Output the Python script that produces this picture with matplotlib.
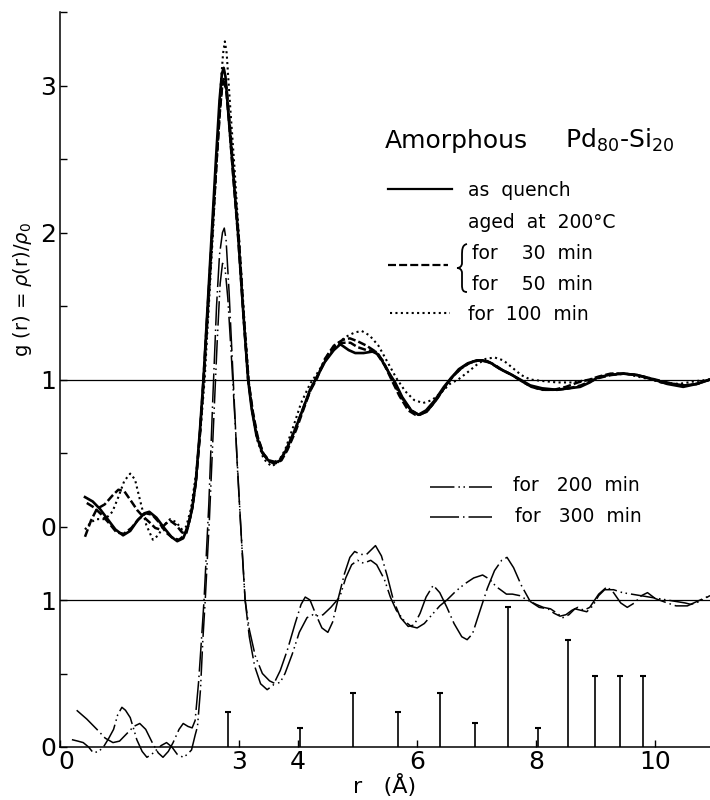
import matplotlib
matplotlib.use("Agg")
import matplotlib.pyplot as plt
import matplotlib.transforms as mtransforms
from matplotlib.lines import Line2D
from matplotlib.path import Path
from matplotlib.patches import PathPatch

#==========================================================
# data, r in Angstrom, g(r)
#==========================================================
# upper group : as quench, aged 30 / 50 / 100 min
r_quench = [0.42,0.55,0.67,0.80,0.93,1.06,1.18,1.30,1.42,1.50,1.62,1.75,1.87,1.97,2.07,
            2.15,2.22,2.28,2.35,2.41,2.48,2.55,2.62,2.68,2.72,2.75,2.78,2.83,2.91,2.99,
            3.08,3.16,3.22,3.30,3.40,3.50,3.60,3.70,3.80,3.95,4.10,4.20,4.32,4.45,4.60,
            4.71,4.85,4.96,5.10,5.25,5.35,5.45,5.55,5.63,5.75,5.90,6.02,6.15,6.30,6.45,
            6.55,6.70,6.85,7.00,7.10,7.25,7.40,7.55,7.73,7.90,8.10,8.35,8.55,8.74,8.90,
            9.02,9.20,9.46,9.70,9.87,10.05,10.20,10.47,10.70,10.92]
g_quench = [0.20,0.17,0.12,0.05,-0.02,-0.06,-0.03,0.04,0.09,0.10,0.06,-0.01,-0.07,-0.10,-0.08,
            0.00,0.12,0.30,0.65,1.00,1.50,2.00,2.50,2.90,3.08,3.12,3.06,2.80,2.40,2.00,
            1.45,1.00,0.80,0.62,0.50,0.45,0.43,0.45,0.52,0.66,0.82,0.93,1.02,1.12,1.20,
            1.24,1.20,1.18,1.18,1.19,1.17,1.10,1.03,0.98,0.88,0.79,0.76,0.79,0.86,0.95,
            1.00,1.07,1.11,1.13,1.13,1.11,1.07,1.04,1.00,0.96,0.94,0.93,0.94,0.95,0.98,
            1.01,1.03,1.04,1.03,1.01,0.99,0.97,0.95,0.97,1.00]

r_30 = [0.42,0.52,0.62,0.75,0.88,0.98,1.08,1.20,1.30,1.39,1.50,1.60,1.68,1.78,1.85,
        1.95,2.05,2.12,2.20,2.28,2.35,2.41,2.48,2.55,2.62,2.68,2.72,2.75,2.79,2.84,
        2.91,2.99,3.08,3.16,3.23,3.31,3.41,3.51,3.61,3.71,3.81,3.96,4.10,4.20,4.32,
        4.45,4.60,4.75,4.87,5.00,5.15,5.30,5.45,5.58,5.70,5.85,5.97,6.05,6.18,6.32,
        6.47,6.60,6.75,6.90,7.05,7.20,7.40,7.60,7.75,7.92,8.10,8.30,8.50,8.70,8.90,
        9.05,9.25,9.48,9.70,9.90,10.10,10.30,10.50,10.70,10.92]
g_30 = [-0.07,0.04,0.12,0.15,0.21,0.25,0.24,0.17,0.11,0.07,0.03,-0.01,-0.02,0.02,0.04,
        0.01,-0.04,-0.05,0.08,0.30,0.62,1.00,1.48,1.95,2.42,2.80,2.98,3.02,2.98,2.75,
        2.38,1.98,1.45,1.00,0.79,0.62,0.50,0.45,0.44,0.46,0.53,0.67,0.82,0.92,1.01,
        1.14,1.23,1.27,1.28,1.26,1.23,1.19,1.10,0.99,0.89,0.79,0.76,0.76,0.79,0.86,
        0.95,1.02,1.08,1.12,1.13,1.12,1.07,1.03,0.99,0.95,0.93,0.93,0.95,0.98,1.00,
        1.02,1.04,1.04,1.03,1.01,0.98,0.97,0.96,0.97,1.00]

r_50 = [0.45,0.57,0.70,0.83,0.95,1.07,1.20,1.32,1.44,1.55,1.66,1.78,1.90,2.00,2.09,
        2.16,2.23,2.29,2.36,2.42,2.49,2.56,2.63,2.69,2.73,2.76,2.80,2.86,2.93,3.01,
        3.09,3.17,3.24,3.32,3.42,3.52,3.62,3.72,3.82,3.97,4.12,4.22,4.33,4.46,4.60,
        4.73,4.88,5.00,5.15,5.30,5.42,5.52,5.62,5.75,5.90,6.03,6.16,6.30,6.45,6.57,
        6.72,6.87,7.02,7.15,7.30,7.45,7.60,7.75,7.92,8.12,8.35,8.55,8.75,8.92,9.05,
        9.25,9.48,9.70,9.90,10.10,10.30,10.50,10.70,10.92]
g_50 = [0.16,0.13,0.08,0.02,-0.04,-0.05,-0.01,0.05,0.09,0.08,0.03,-0.04,-0.08,-0.09,-0.06,
        0.02,0.14,0.33,0.68,1.02,1.50,2.00,2.48,2.85,3.02,3.05,2.98,2.70,2.33,1.93,
        1.40,0.98,0.78,0.61,0.49,0.44,0.43,0.45,0.52,0.66,0.83,0.94,1.03,1.13,1.21,
        1.25,1.25,1.22,1.20,1.19,1.13,1.05,0.97,0.87,0.79,0.76,0.78,0.85,0.94,1.01,
        1.07,1.11,1.13,1.13,1.10,1.06,1.03,0.99,0.95,0.93,0.93,0.94,0.96,0.99,1.01,
        1.03,1.04,1.03,1.01,0.99,0.97,0.96,0.97,1.00]

r_100 = [0.42,0.52,0.62,0.76,0.88,0.98,1.08,1.18,1.26,1.35,1.45,1.56,1.65,1.75,1.85,
         1.95,2.05,2.12,2.20,2.30,2.37,2.43,2.50,2.57,2.64,2.70,2.74,2.77,2.80,2.86,
         2.93,3.00,3.09,3.17,3.23,3.32,3.42,3.55,3.65,3.78,3.92,4.05,4.20,4.35,4.50,
         4.65,4.80,4.95,5.07,5.20,5.35,5.50,5.65,5.80,5.95,6.10,6.25,6.40,6.55,6.69,
         6.85,7.00,7.15,7.30,7.45,7.60,7.75,7.90,8.10,8.35,8.60,8.90,9.10,9.30,9.50,
         9.70,9.92,10.15,10.40,10.70,10.92]
g_100 = [-0.02,0.03,0.05,0.05,0.10,0.20,0.31,0.36,0.32,0.17,0.01,-0.09,-0.06,0.01,0.05,
         0.03,-0.02,0.00,0.12,0.40,0.70,1.00,1.50,2.00,2.55,3.00,3.22,3.30,3.22,2.85,
         2.45,2.00,1.45,1.00,0.78,0.58,0.46,0.41,0.43,0.52,0.68,0.84,0.97,1.06,1.17,
         1.24,1.29,1.32,1.33,1.30,1.23,1.12,1.01,0.92,0.86,0.84,0.86,0.91,0.97,1.00,
         1.05,1.10,1.14,1.15,1.13,1.08,1.03,1.00,0.99,0.98,0.98,1.00,1.02,1.04,1.04,
         1.02,1.00,0.98,0.97,0.99,1.00]

# lower group : aged 200 / 300 min
r_200 = [0.20,0.30,0.39,0.48,0.56,0.65,0.73,0.82,0.90,0.97,1.04,1.10,1.18,1.24,1.29,
         1.38,1.46,1.54,1.62,1.70,1.79,1.88,1.97,2.07,2.14,2.21,2.27,2.31,2.36,2.40,
         2.44,2.51,2.58,2.64,2.69,2.73,2.77,2.82,2.88,2.95,3.03,3.11,3.18,3.28,3.40,
         3.52,3.62,3.70,3.78,3.90,4.02,4.15,4.25,4.35,4.42,4.55,4.70,4.80,4.90,5.00,
         5.10,5.22,5.32,5.45,5.55,5.65,5.78,5.90,6.00,6.12,6.25,6.38,6.50,6.65,6.80,
         6.95,7.10,7.22,7.33,7.40,7.50,7.60,7.72,7.85,8.00,8.12,8.24,8.35,8.45,8.55,
         8.65,8.75,8.85,8.95,9.05,9.15,9.30,9.45,9.60,9.75,9.90,10.05,10.20,10.35,10.50,
         10.60,10.75,10.92]
g_200 = [0.05,0.04,0.03,0.00,-0.04,-0.03,0.00,0.06,0.12,0.22,0.27,0.25,0.20,0.12,0.05,
         -0.03,-0.07,-0.05,-0.02,0.01,0.03,0.00,-0.05,-0.07,-0.05,-0.02,0.08,0.14,0.39,0.73,
         1.00,1.55,2.20,2.75,3.15,3.29,3.27,3.05,2.65,2.15,1.55,1.00,0.80,0.62,0.50,
         0.45,0.43,0.44,0.50,0.63,0.78,0.88,0.90,0.89,0.90,0.95,1.02,1.15,1.24,1.27,
         1.25,1.27,1.24,1.14,1.02,0.93,0.86,0.82,0.81,0.84,0.90,0.96,1.00,1.06,1.11,
         1.15,1.17,1.14,1.09,1.07,1.04,1.04,1.03,1.00,0.97,0.95,0.94,0.91,0.88,0.90,
         0.94,0.93,0.92,0.96,1.03,1.07,1.07,1.05,1.04,1.03,1.02,1.01,1.00,0.99,0.98,
         0.97,0.99,1.03]

r_300 = [0.28,0.45,0.62,0.76,0.89,1.00,1.12,1.24,1.34,1.44,1.55,1.65,1.73,1.82,1.90,
         2.00,2.07,2.15,2.22,2.27,2.33,2.38,2.42,2.50,2.57,2.63,2.68,2.73,2.76,2.79,
         2.84,2.91,2.98,3.05,3.11,3.18,3.27,3.37,3.48,3.58,3.70,3.82,3.95,4.05,4.12,
         4.20,4.30,4.40,4.50,4.58,4.68,4.78,4.87,4.95,5.05,5.15,5.30,5.40,5.50,5.60,
         5.72,5.85,5.95,6.05,6.15,6.27,6.38,6.50,6.62,6.75,6.84,6.93,7.05,7.18,7.30,
         7.42,7.51,7.62,7.75,7.90,8.05,8.20,8.30,8.40,8.50,8.60,8.70,8.80,8.90,9.05,
         9.19,9.30,9.42,9.53,9.65,9.77,9.87,10.00,10.20,10.35,10.54,10.70,10.92]
g_300 = [0.25,0.19,0.12,0.06,0.03,0.04,0.09,0.14,0.16,0.12,0.03,-0.04,-0.07,-0.03,0.03,
         0.12,0.16,0.14,0.13,0.18,0.45,0.75,1.00,1.65,2.40,3.00,3.35,3.50,3.53,3.45,
         3.10,2.50,1.90,1.40,1.00,0.75,0.55,0.43,0.39,0.42,0.52,0.66,0.84,0.97,1.02,
         1.00,0.90,0.81,0.78,0.85,1.02,1.18,1.29,1.33,1.31,1.31,1.37,1.30,1.16,1.00,
         0.88,0.82,0.83,0.91,1.02,1.10,1.05,0.95,0.84,0.75,0.73,0.77,0.92,1.08,1.20,
         1.27,1.29,1.22,1.10,0.99,0.95,0.94,0.91,0.89,0.90,0.93,0.95,0.93,0.95,1.04,
         1.09,1.05,0.98,0.95,0.98,1.03,1.05,1.01,0.98,0.96,0.96,0.99,1.03]

# crystalline reference lines (bars at the bottom)
stick_r = [2.82, 4.03, 4.93, 5.68, 6.39, 6.97, 7.53, 8.03, 8.54, 8.99, 9.40, 9.80]
stick_h = [0.24, 0.13, 0.37, 0.24, 0.37, 0.16, 0.95, 0.13, 0.73, 0.48, 0.48, 0.48]

# y ticks: the upper group is shifted by UPPER_SHIFT on the common axis
UPPER_SHIFT = 1.5
ytick_pos = [0, 1, 1.5, 2.5, 3.5, 4.5]
ytick_lab = ["0", "1", "0", "1", "2", "3"]
ytick_minor = [0.5, 2.0, 3.0, 4.0, 5.0]
xtick_pos = [0, 3, 4, 6, 8, 10]
xtick_lab = ["0", "3", "4", "6", "8", "10"]

#==========================================================
# plot
#==========================================================
plt.rcParams["font.family"] = ["DejaVu Sans"]
fig = plt.figure(figsize=(7.1, 8.0), dpi=100)
ax = fig.add_axes([60/710., 53/800., 650/710., 735/800.])

k = "black"
dash_200 = (0, (16, 2.6, 1, 2.3, 1, 2.6))
dash_300 = (0, (19, 2.6, 1, 2.6))

up = lambda g: [v + UPPER_SHIFT for v in g]
ax.plot(r_quench, up(g_quench), color=k, lw=1.9, clip_on=False)
ax.plot(r_30, up(g_30), color=k, lw=1.8, ls=(0, (3.2, 1.2)), clip_on=False)
ax.plot(r_50, up(g_50), color=k, lw=1.8, ls=(0, (3.2, 1.2)), clip_on=False)
ax.plot(r_100, up(g_100), color=k, lw=1.5, ls=(0, (1, 1.6)), clip_on=False)

ax.plot(r_200, g_200, color=k, lw=1.1, ls=dash_200, clip_on=False)
ax.plot(r_300, g_300, color=k, lw=1.1, ls=dash_300, clip_on=False)

ax.vlines(stick_r, 0, stick_h, color=k, lw=1.2)
ax.plot(stick_r, stick_h, ls="none", marker="_", ms=5, mew=1.5, color=k)

# g = 1 reference levels
ax.axhline(1.0, color=k, lw=0.9)
ax.axhline(1.0 + UPPER_SHIFT, color=k, lw=0.9)

ax.set_xlim(0, 10.92)
ax.set_ylim(0, 5.0)
ax.spines["top"].set_visible(False)
ax.spines["right"].set_visible(False)
ax.spines["left"].set_linewidth(1.1)
ax.spines["bottom"].set_linewidth(1.1)
ax.set_yticks(ytick_pos)
ax.set_yticklabels(ytick_lab)
ax.set_yticks(ytick_minor, minor=True)
ax.set_xticks(xtick_pos)
ax.set_xticklabels(xtick_lab)
ax.tick_params(axis="both", which="both", direction="in", length=5, width=1.0,
               labelsize=18, pad=3)
ax.tick_params(axis="x", pad=2)
# the "0" of r sits a little right of the corner in the original
lab0 = ax.xaxis.get_majorticklabels()[0]
lab0.set_transform(lab0.get_transform() +
                   mtransforms.ScaledTranslation(6/100., 0, fig.dpi_scale_trans))

#==========================================================
# texts / legend in figure pixels
#==========================================================
W, H = 710., 800.
fx = lambda px: px / W
fy = lambda py: 1 - py / H

def key(x0, x1, y, **kw):
    fig.add_artist(Line2D([fx(x0), fx(x1)], [fy(y), fy(y)], color=k, **kw))

fig.text(fx(385), fy(148), "Amorphous", fontsize=18, va="baseline")
fig.text(fx(565), fy(148), r"Pd$_{80}$-Si$_{20}$", fontsize=18, va="baseline")

key(388, 452, 189, lw=1.6)
fig.text(fx(468), fy(196), "as  quench", fontsize=13.5, va="baseline")
fig.text(fx(468), fy(228), "aged  at  200°C", fontsize=13.5, va="baseline")
key(388, 448, 265, lw=1.6, ls=(0, (3.6, 1.4)))
fig.text(fx(472), fy(259), "for    30  min", fontsize=13.5, va="baseline")
fig.text(fx(472), fy(290), "for    50  min", fontsize=13.5, va="baseline")
key(390, 450, 313, lw=1.5, ls=(0, (1, 1.6)))
fig.text(fx(468), fy(320), "for  100  min", fontsize=13.5, va="baseline")

# brace grouping 30 / 50 min
brace = [(467, 244), (462, 245), (462, 250), (462, 256),
         (462, 263), (462, 266), (460, 268), (457, 268),
         (460, 268), (462, 270), (462, 273),
         (462, 285), (462, 290), (463, 292), (467, 292)]
codes = [Path.MOVETO, Path.CURVE4, Path.CURVE4, Path.CURVE4,
         Path.LINETO, Path.CURVE4, Path.CURVE4, Path.CURVE4,
         Path.CURVE4, Path.CURVE4, Path.CURVE4,
         Path.LINETO, Path.CURVE4, Path.CURVE4, Path.CURVE4]
fig.add_artist(PathPatch(Path([(fx(a), fy(b)) for a, b in brace], codes),
                         transform=fig.transFigure, fill=False, lw=1.3, ec=k))

key(430, 492, 487, lw=1.1, ls=dash_200)
fig.text(fx(513), fy(491), "for   200  min", fontsize=13.5, va="baseline")
key(430, 492, 517, lw=1.1, ls=dash_300)
fig.text(fx(515), fy(522), "for   300  min", fontsize=13.5, va="baseline")

fig.text(fx(22), fy(290), r"g (r) = $\rho$(r)/$\rho_{0}$", fontsize=14,
         rotation=90, ha="center", va="center")
fig.text(fx(385), fy(786), "r   (Å)", fontsize=16, ha="center", va="center")

fig.savefig("out.png", dpi=100)
